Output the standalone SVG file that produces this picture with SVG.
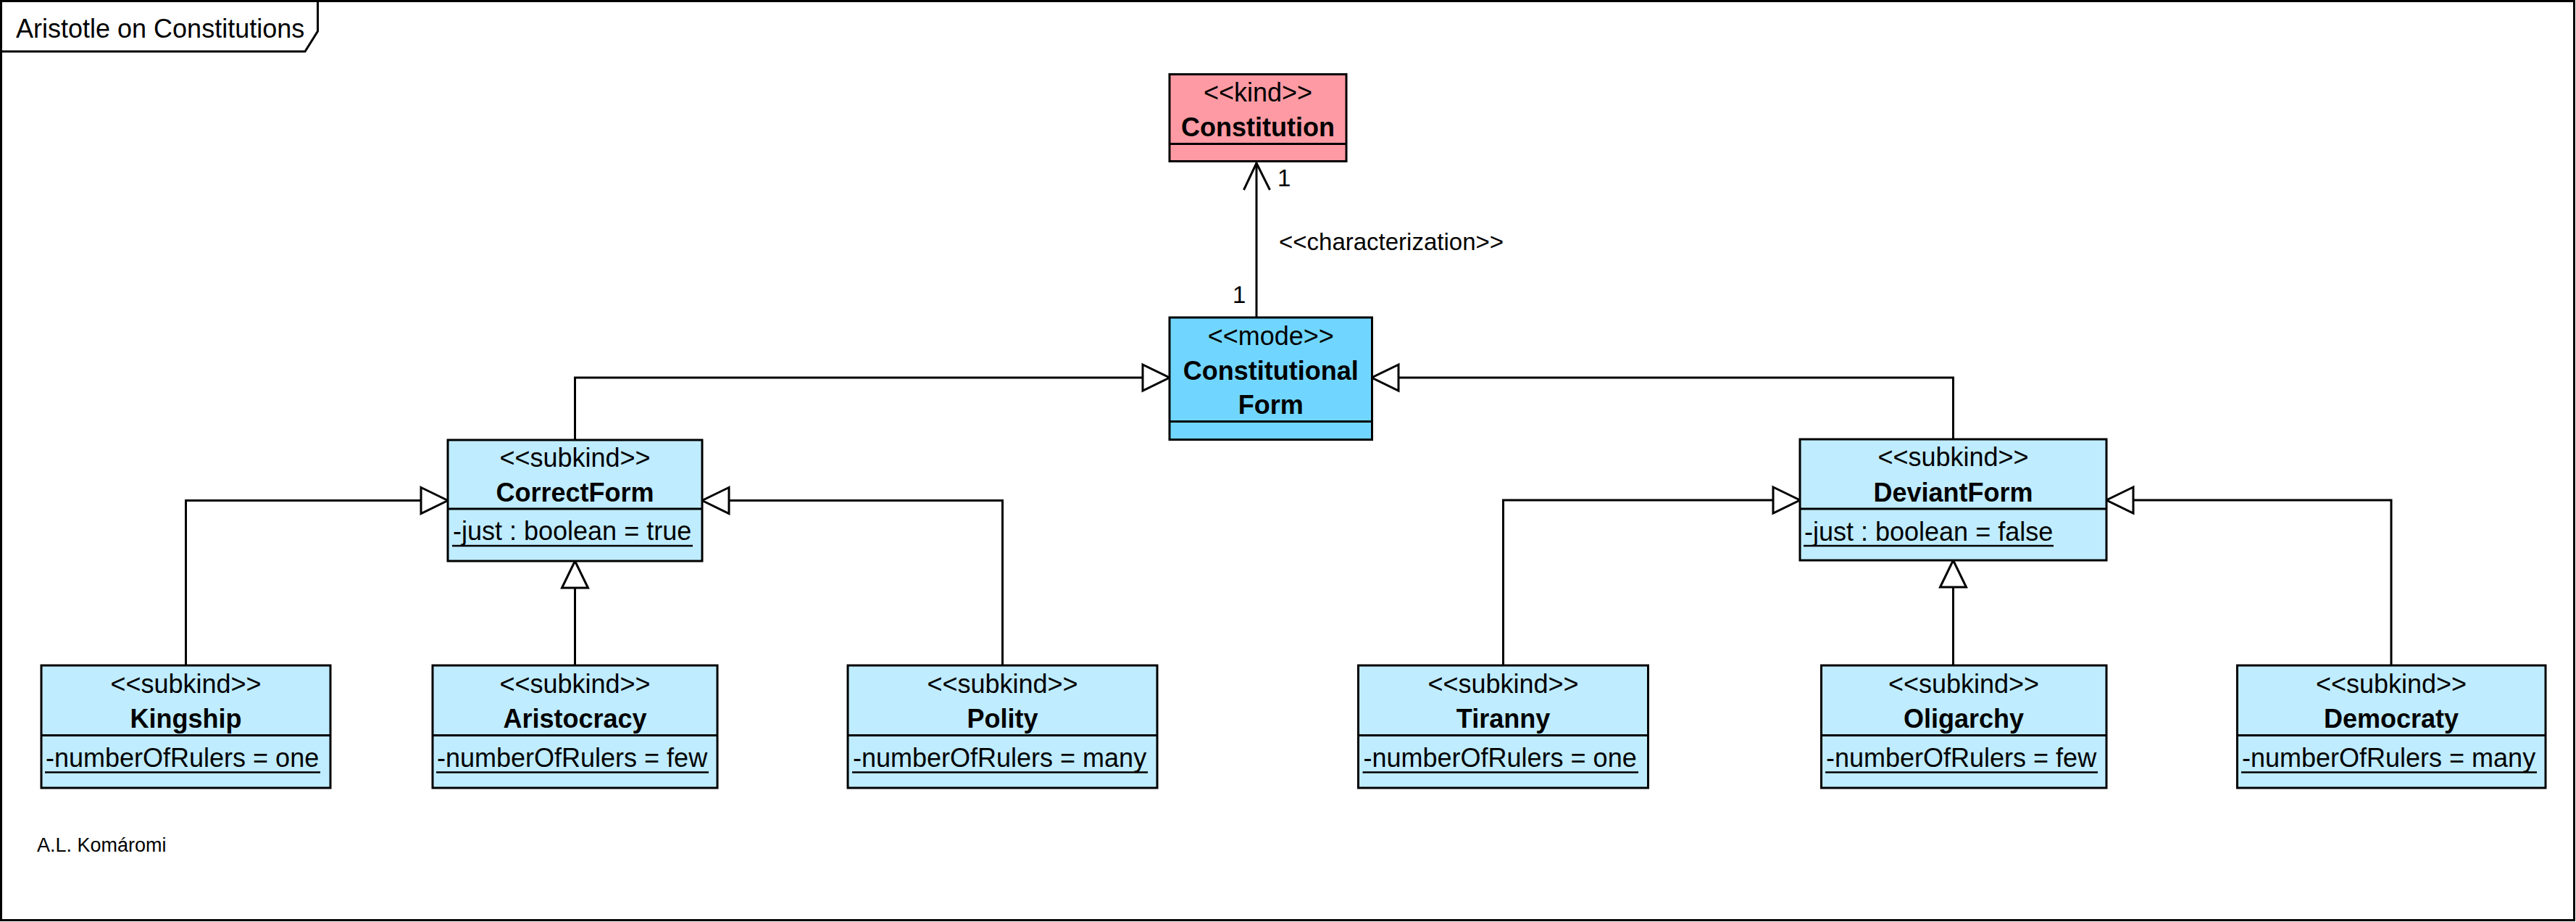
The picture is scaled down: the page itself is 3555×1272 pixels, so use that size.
<svg xmlns="http://www.w3.org/2000/svg" width="3555" height="1272" viewBox="0 0 3555 1272">
<style>
text{font-family:"Liberation Sans",Arial,sans-serif;fill:#000}
.st{font-size:36px;text-anchor:middle}
.nm{font-size:36px;font-weight:bold;text-anchor:middle}
.at{font-size:36px}
.lb{font-size:33px}
.box{stroke:#000;stroke-width:3}
.div{stroke:#000;stroke-width:3}
.ul{stroke:#000;stroke-width:2.5}
.kind{fill:#FE9AA3}
.mode{fill:#70D6FF}
.sub{fill:#BFECFF}
.ln{fill:none;stroke:#000;stroke-width:3}
.tri{fill:#fff;stroke:#000;stroke-width:3;stroke-linejoin:miter}
</style>
<rect x="0" y="0" width="3555" height="1272" fill="#fff"/>
<g id="frame">
<rect x="1.5" y="1.5" width="3551" height="1268" fill="none" stroke="#000" stroke-width="3"/>
<path d="M1.5 71 H421 L438.5 43 V1.5" fill="none" stroke="#000" stroke-width="3"/>
<text x="22" y="52" style="font-size:36px">Aristotle on Constitutions</text>
</g>
<g id="connectors">
<line class="ln" x1="1734" y1="437" x2="1734" y2="225"/>
<polyline class="ln" points="1716.5,262 1734,225 1752.5,262"/>
<text class="lb" x="1763" y="257">1</text>
<text class="lb" x="1765" y="345">&lt;&lt;characterization&gt;&gt;</text>
<text class="lb" x="1701" y="418">1</text>
<path class="ln" d="M793.5 607 V521 H1577"/>
<polygon class="tri" points="1577,503 1614,521 1577,539"/>
<path class="ln" d="M2695.5 606 V521 H1930"/>
<polygon class="tri" points="1930,503 1893,521 1930,539"/>
<path class="ln" d="M256.5 918 V690.5 H581"/>
<polygon class="tri" points="581,672.5 618,690.5 581,708.5"/>
<path class="ln" d="M1383.5 918 V690.5 H1006"/>
<polygon class="tri" points="1006,672.5 969,690.5 1006,708.5"/>
<path class="ln" d="M793.5 918 V811"/>
<polygon class="tri" points="775.5,811 793.5,774 811.5,811"/>
<path class="ln" d="M2074.5 918 V690 H2447"/>
<polygon class="tri" points="2447,672 2484,690 2447,708"/>
<path class="ln" d="M3300 918 V690 H2944"/>
<polygon class="tri" points="2944,672 2907,690 2944,708"/>
<path class="ln" d="M2695.5 918 V810"/>
<polygon class="tri" points="2677.5,810 2695.5,773 2713.5,810"/>
</g>
<g id="Constitution">
<rect class="box kind" x="1614" y="102.5" width="244" height="120"/>
<line class="div" x1="1614" y1="198.5" x2="1858" y2="198.5"/>
<text class="st" x="1736" y="140">&lt;&lt;kind&gt;&gt;</text>
<text class="nm" x="1736" y="188">Constitution</text>
</g>
<g id="ConstitutionalForm">
<rect class="box mode" x="1614" y="438" width="279.5" height="168.5"/>
<line class="div" x1="1614" y1="581.5" x2="1893.5" y2="581.5"/>
<text class="st" x="1753.75" y="476">&lt;&lt;mode&gt;&gt;</text>
<text class="nm" x="1753.75" y="523.5">Constitutional</text>
<text class="nm" x="1753.75" y="571">Form</text>
</g>
<g id="CorrectForm">
<rect class="box sub" x="618" y="607" width="351" height="167"/>
<line class="div" x1="618" y1="702" x2="969" y2="702"/>
<text class="st" x="793.5" y="644">&lt;&lt;subkind&gt;&gt;</text>
<text class="nm" x="793.5" y="692">CorrectForm</text>
<text class="at" x="625" y="745">-just : boolean = true</text>
<line class="ul" x1="624" y1="753" x2="956" y2="753"/>
</g>
<g id="DeviantForm">
<rect class="box sub" x="2484" y="606" width="423" height="167"/>
<line class="div" x1="2484" y1="702" x2="2907" y2="702"/>
<text class="st" x="2695.5" y="643">&lt;&lt;subkind&gt;&gt;</text>
<text class="nm" x="2695.5" y="692">DeviantForm</text>
<text class="at" x="2490" y="746">-just : boolean = false</text>
<line class="ul" x1="2489" y1="753" x2="2834" y2="753"/>
</g>
<g id="Kingship">
<rect class="box sub" x="57" y="918" width="399" height="169"/>
<line class="div" x1="57" y1="1014.5" x2="456" y2="1014.5"/>
<text class="st" x="256.5" y="956">&lt;&lt;subkind&gt;&gt;</text>
<text class="nm" x="256.5" y="1004">Kingship</text>
<text class="at" x="63" y="1058">-numberOfRulers = one</text>
<line class="ul" x1="62" y1="1065.5" x2="442" y2="1065.5"/>
</g>
<g id="Aristocracy">
<rect class="box sub" x="597" y="918" width="393" height="169"/>
<line class="div" x1="597" y1="1014.5" x2="990" y2="1014.5"/>
<text class="st" x="793.5" y="956">&lt;&lt;subkind&gt;&gt;</text>
<text class="nm" x="793.5" y="1004">Aristocracy</text>
<text class="at" x="603" y="1058">-numberOfRulers = few</text>
<line class="ul" x1="602" y1="1065.5" x2="978" y2="1065.5"/>
</g>
<g id="Polity">
<rect class="box sub" x="1170" y="918" width="427" height="169"/>
<line class="div" x1="1170" y1="1014.5" x2="1597" y2="1014.5"/>
<text class="st" x="1383.5" y="956">&lt;&lt;subkind&gt;&gt;</text>
<text class="nm" x="1383.5" y="1004">Polity</text>
<text class="at" x="1177" y="1058">-numberOfRulers = many</text>
<line class="ul" x1="1176" y1="1065.5" x2="1584" y2="1065.5"/>
</g>
<g id="Tiranny">
<rect class="box sub" x="1874.5" y="918" width="400" height="169"/>
<line class="div" x1="1874.5" y1="1014.5" x2="2274.5" y2="1014.5"/>
<text class="st" x="2074.5" y="956">&lt;&lt;subkind&gt;&gt;</text>
<text class="nm" x="2074.5" y="1004">Tiranny</text>
<text class="at" x="1881.5" y="1058">-numberOfRulers = one</text>
<line class="ul" x1="1880.5" y1="1065.5" x2="2261" y2="1065.5"/>
</g>
<g id="Oligarchy">
<rect class="box sub" x="2513.5" y="918" width="393.5" height="169"/>
<line class="div" x1="2513.5" y1="1014.5" x2="2907" y2="1014.5"/>
<text class="st" x="2710" y="956">&lt;&lt;subkind&gt;&gt;</text>
<text class="nm" x="2710" y="1004">Oligarchy</text>
<text class="at" x="2520" y="1058">-numberOfRulers = few</text>
<line class="ul" x1="2519" y1="1065.5" x2="2895" y2="1065.5"/>
</g>
<g id="Democraty">
<rect class="box sub" x="3087.5" y="918" width="425.5" height="169"/>
<line class="div" x1="3087.5" y1="1014.5" x2="3513" y2="1014.5"/>
<text class="st" x="3300" y="956">&lt;&lt;subkind&gt;&gt;</text>
<text class="nm" x="3300" y="1004">Democraty</text>
<text class="at" x="3094" y="1058">-numberOfRulers = many</text>
<line class="ul" x1="3093" y1="1065.5" x2="3501" y2="1065.5"/>
</g>
<g id="author">
<text x="51" y="1175" style="font-size:27px">A.L. Komáromi</text>
</g>
</svg>
